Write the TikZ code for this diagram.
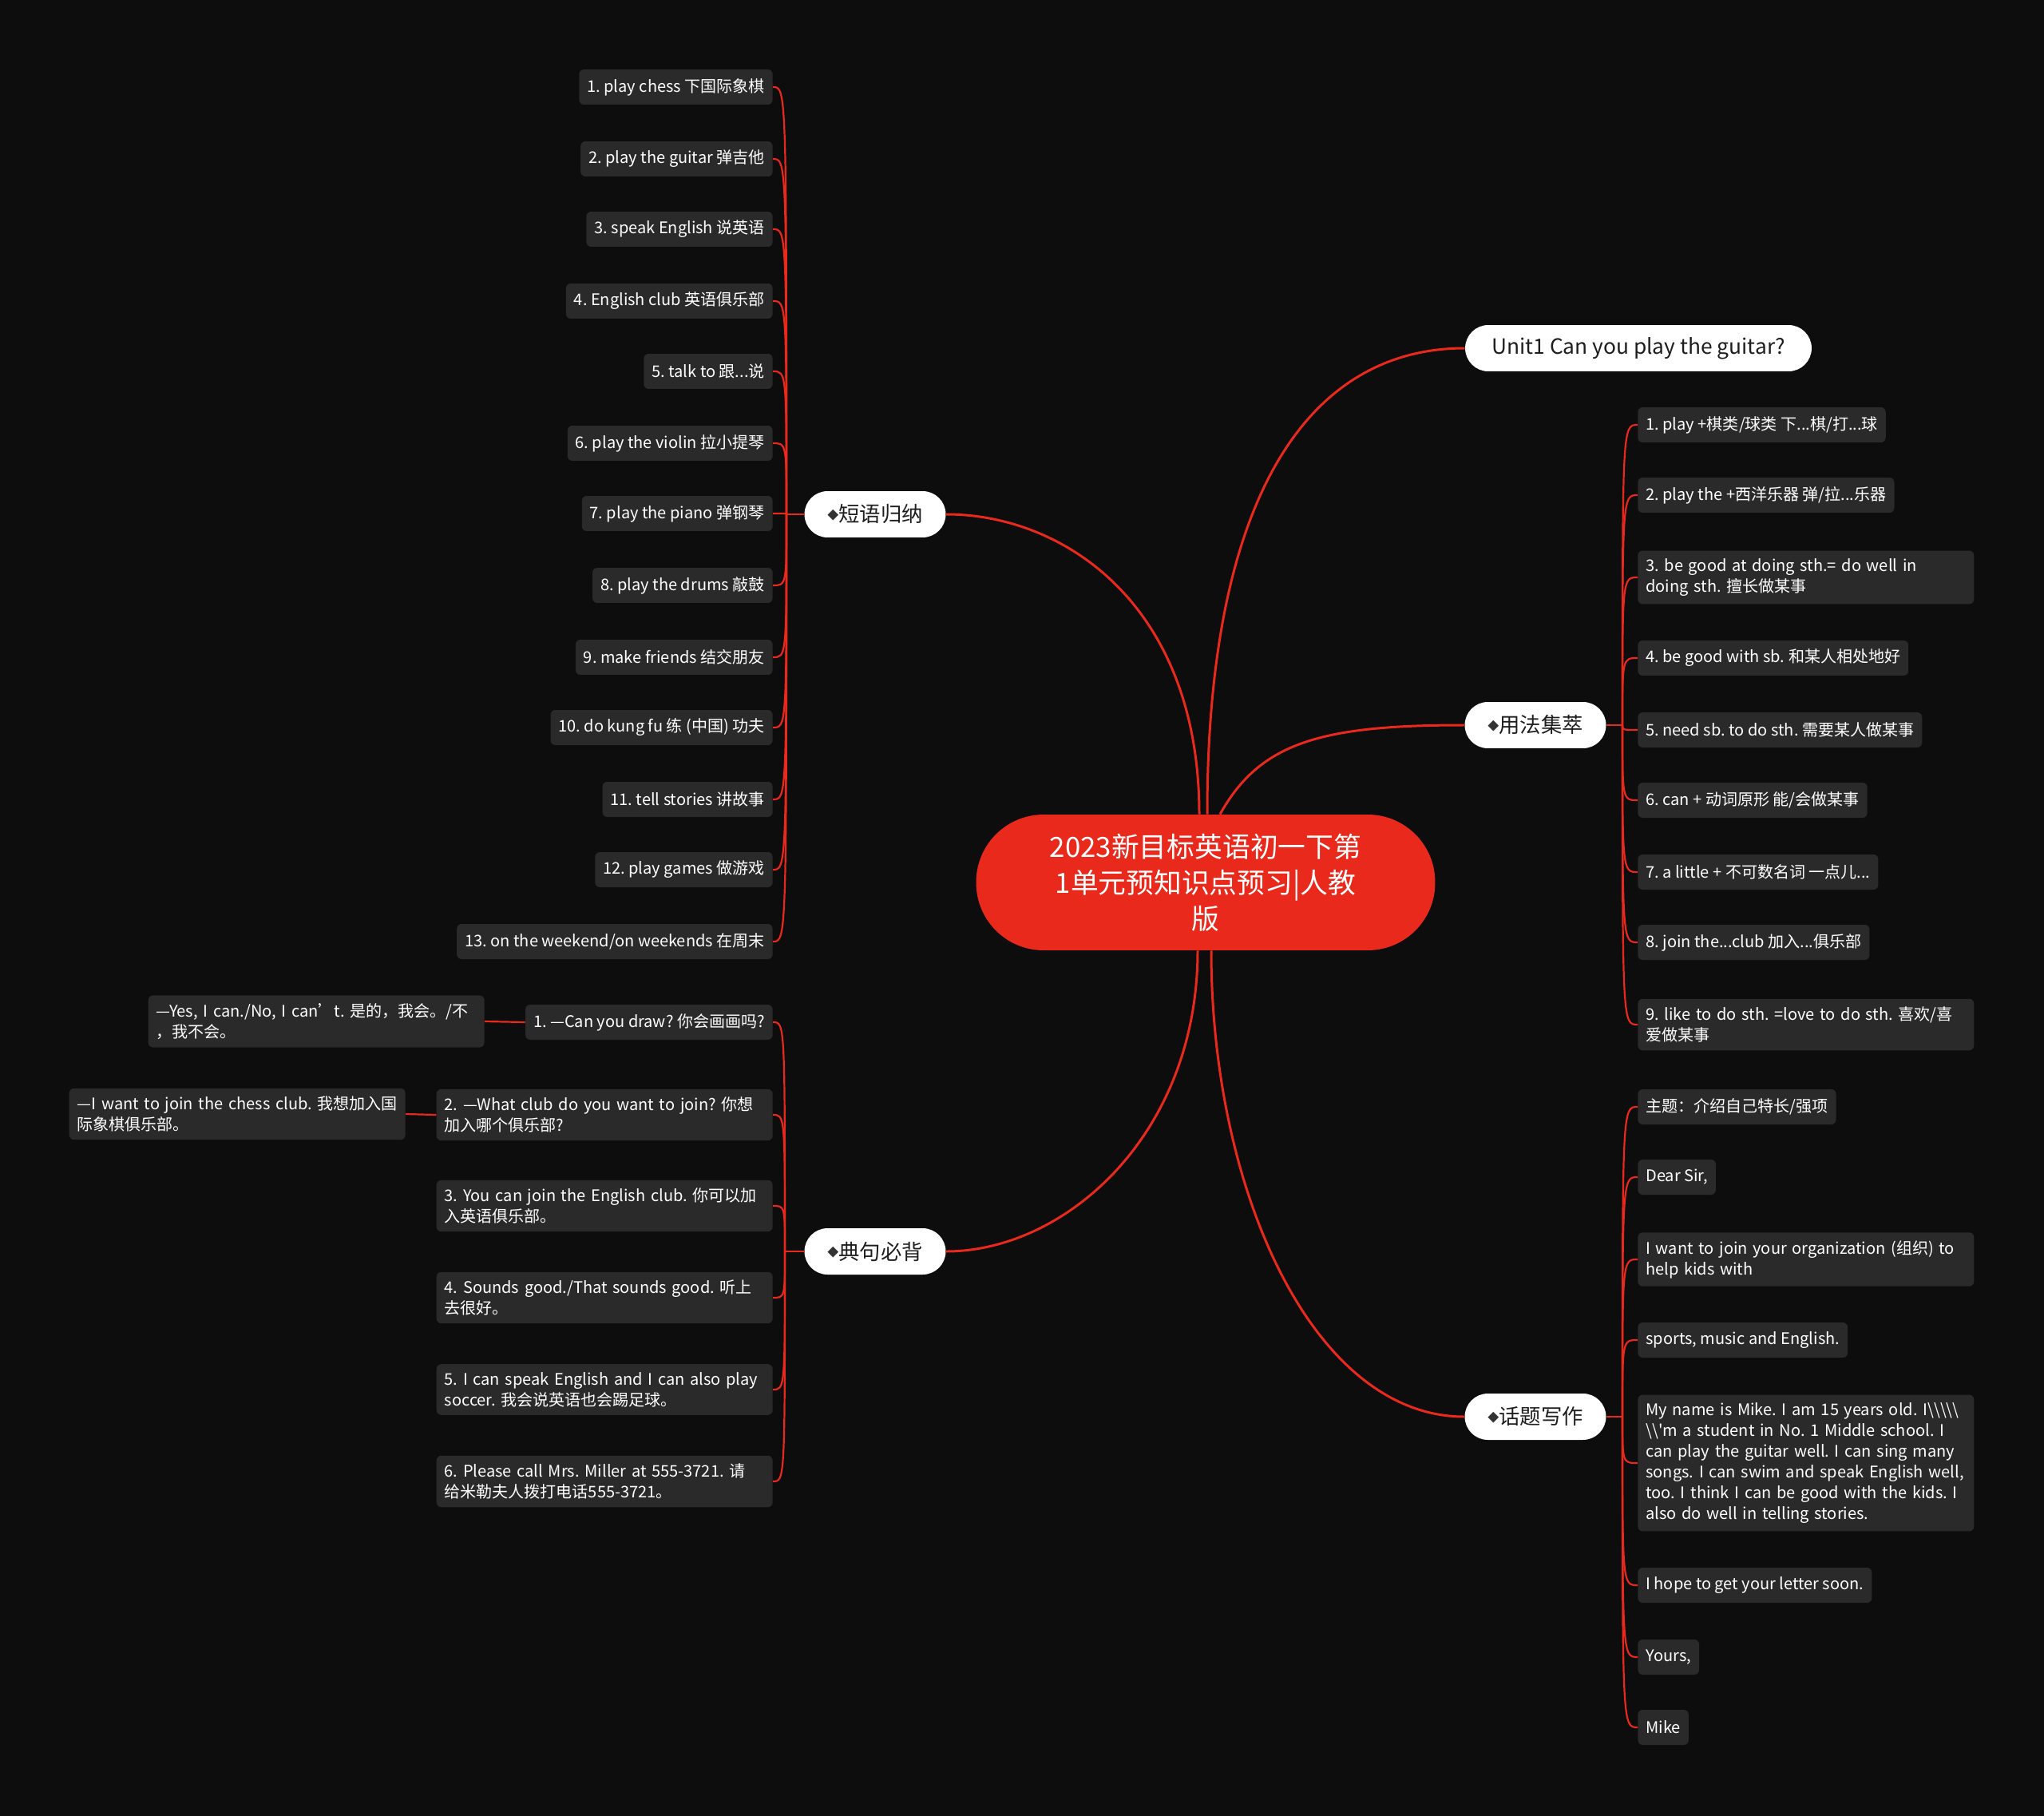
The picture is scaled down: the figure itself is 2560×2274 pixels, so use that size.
\documentclass[tikz,border=0pt]{standalone}
\usepackage{fontspec}
\setmainfont{Noto Sans CJK SC}
\usepackage{xcolor}
\usepackage{tikz}
\frenchspacing
\definecolor{MapBg}{HTML}{0D0D0D}
\definecolor{MapRed}{HTML}{E8291C}
\definecolor{MapLeaf}{HTML}{2A2A2A}
\definecolor{MapInk}{HTML}{1E1E1E}
\definecolor{MapDia}{HTML}{333333}
\newcommand\leaffont{\fontsize{11.4pt}{14.8pt}\selectfont}
\newcommand\dmd{\raisebox{0.12em}{\color{MapDia}\fontsize{8pt}{8pt}\selectfont ◆}}
\tikzset{
  rootbox/.style={fill=MapRed,text=white,rounded corners=1.69cm,minimum width=11.5cm,minimum height=3.4cm,align=center,inner sep=0pt,font=\fontsize{19.8pt}{25.6pt}\selectfont},
  limbbox/.style={fill=white,text=MapInk,rounded corners=0.58cm,minimum width=3.54cm,minimum height=1.16cm,inner sep=0pt,font=\fontsize{15pt}{18pt}\selectfont},
  leaf/.style={fill=MapLeaf,text=white,rounded corners=0.12cm,inner xsep=0.2cm,inner ysep=0.2cm,minimum height=0.88cm,font=\leaffont},
  wide/.style={text width=8.02cm,align=left},
  limb/.style={draw=MapRed,line width=1.7pt},
  twig/.style={draw=MapRed,line width=1.25pt}
}
\begin{document}
\begin{tikzpicture}[x=0.02cm,y=-0.02cm]
\fill[MapBg] (0,0) rectangle (2560,2274);
\useasboundingbox (0,0) rectangle (2560,2274);

\node[rootbox] (root) at (1510,1105) {2023新目标英语初一下第\\1单元预知识点预习|人教\\版};

\node[limbbox] (phr) at (1096,644) {\dmd{}短语归纳};
\node[limbbox] (sen) at (1096,1567) {\dmd{}典句必背};
\node[limbbox,minimum width=8.68cm] (unit) at (2052,436) {Unit1 Can you play the guitar?};
\node[limbbox] (use) at (1923,908) {\dmd{}用法集萃};
\node[limbbox] (wrt) at (1923,1774) {\dmd{}话题写作};

\draw[limb] ([xshift=-0.16cm]root.north) .. controls +(0,-260) and +(150,0) .. (phr.east);
\draw[limb] ([xshift=0.04cm]root.north) .. controls +(0,-400) and +(-195,0) .. (unit.west);
\draw[limb] ([xshift=0.36cm]root.north) .. controls +(50,-90) and +(-180,0) .. (use.west);
\draw[limb] ([xshift=-0.2cm]root.south) .. controls +(0,230) and +(150,0) .. (sen.east);
\draw[limb] ([xshift=0.14cm]root.south) .. controls +(0,300) and +(-190,0) .. (wrt.west);

% 短语归纳
\node[leaf,anchor=east] (phr1) at (968,109) {1. play chess 下国际象棋};
\node[leaf,anchor=east] (phr2) at (968,199) {2. play the guitar 弹吉他};
\node[leaf,anchor=east] (phr3) at (968,287) {3. speak English 说英语};
\node[leaf,anchor=east] (phr4) at (968,377) {4. English club 英语俱乐部};
\node[leaf,anchor=east] (phr5) at (968,465) {5. talk to 跟...说};
\node[leaf,anchor=east] (phr6) at (968,555) {6. play the violin 拉小提琴};
\node[leaf,anchor=east] (phr7) at (968,643) {7. play the piano 弹钢琴};
\node[leaf,anchor=east] (phr8) at (968,733) {8. play the drums 敲鼓};
\node[leaf,anchor=east] (phr9) at (968,823) {9. make friends 结交朋友};
\node[leaf,anchor=east] (phr10) at (968,911) {10. do kung fu 练 (中国) 功夫};
\node[leaf,anchor=east] (phr11) at (968,1001) {11. tell stories 讲故事};
\node[leaf,anchor=east] (phr12) at (968,1089) {12. play games 做游戏};
\node[leaf,anchor=east] (phr13) at (968,1179) {13. on the weekend/on weekends 在周末};
\coordinate (phrS) at (985,644);
\draw[twig] (phr.west) -- (phrS);
\foreach \i in {1,...,13}
  \draw[twig] (phrS) .. controls (phrS |- phr\i.east) .. (phr\i.east);

% 典句必背
\node[leaf,anchor=east] (sen1) at (968,1280) {1. —Can you draw? 你会画画吗?};
\node[leaf,wide,anchor=east] (sen2) at (968,1396) {2. —What club do you want to join? 你想\\加入哪个俱乐部?};
\node[leaf,wide,anchor=east] (sen3) at (968,1510) {3. You can join the English club. 你可以加\\入英语俱乐部。};
\node[leaf,wide,anchor=east] (sen4) at (968,1625) {4. Sounds good./That sounds good. 听上\\去很好。};
\node[leaf,wide,anchor=east] (sen5) at (968,1740) {5. I can speak English and I can also play\\soccer. 我会说英语也会踢足球。};
\node[leaf,wide,anchor=east] (sen6) at (968,1855) {6. Please call Mrs. Miller at 555-3721. 请\\给米勒夫人拨打电话555-3721。};
\coordinate (senS) at (983,1567);
\draw[twig] (sen.west) -- (senS);
\foreach \i in {1,...,6}
  \draw[twig] (senS) .. controls (senS |- sen\i.east) .. (sen\i.east);

\node[leaf,wide,anchor=east] (ans1) at (607,1279) {—Yes, I can./No, I can’t. 是的，我会。/不\\，我不会。};
\node[leaf,wide,anchor=east] (ans2) at (508,1395) {\mbox{—I want to join the chess club. 我想加入国}\\际象棋俱乐部。};
\draw[twig] (sen1.west) -- (ans1.east);
\draw[twig] (sen2.west) -- (ans2.east);

% 用法集萃
\node[leaf,anchor=west] (use1) at (2051,532) {1. play +棋类/球类 下...棋/打...球};
\node[leaf,anchor=west] (use2) at (2051,620) {2. play the +西洋乐器 弹/拉...乐器};
\node[leaf,wide,anchor=west] (use3) at (2051,723) {3. be good at doing sth.= do well in\\doing sth. 擅长做某事};
\node[leaf,anchor=west] (use4) at (2051,824) {4. be good with sb. 和某人相处地好};
\node[leaf,anchor=west] (use5) at (2051,914) {5. need sb. to do sth. 需要某人做某事};
\node[leaf,anchor=west] (use6) at (2051,1002) {6. can + 动词原形 能/会做某事};
\node[leaf,anchor=west] (use7) at (2051,1092) {7. a little + 不可数名词 一点儿...};
\node[leaf,anchor=west] (use8) at (2051,1180) {8. join the...club 加入...俱乐部};
\node[leaf,wide,anchor=west] (use9) at (2051,1283) {9. like to do sth. =love to do sth. 喜欢/喜\\爱做某事};
\coordinate (useS) at (2032,908);
\draw[twig] (use.east) -- (useS);
\foreach \i in {1,...,9}
  \draw[twig] (useS) .. controls (useS |- use\i.west) .. (use\i.west);

% 话题写作
\node[leaf,anchor=west] (wrt1) at (2051,1386) {主题：介绍自己特长/强项};
\node[leaf,anchor=west] (wrt2) at (2051,1474) {Dear Sir,};
\node[leaf,wide,anchor=west] (wrt3) at (2051,1577) {I want to join your organization (组织) to\\help kids with};
\node[leaf,anchor=west] (wrt4) at (2051,1678) {sports, music and English.};
\node[leaf,wide,anchor=west] (wrt5) at (2051,1832) {My name is Mike. I am 15 years old. I\textbackslash\textbackslash\textbackslash\textbackslash\textbackslash\\\textbackslash\textbackslash\textquotesingle m a student in No. 1 Middle school. I\\can play the guitar well. I can sing many\\songs. I can swim and speak English well,\\too. I think I can be good with the kids. I\\also do well in telling stories.};
\node[leaf,anchor=west] (wrt6) at (2051,1985) {I hope to get your letter soon.};
\node[leaf,anchor=west] (wrt7) at (2051,2075) {Yours,};
\node[leaf,anchor=west] (wrt8) at (2051,2163) {Mike};
\coordinate (wrtS) at (2032,1774);
\draw[twig] (wrt.east) -- (wrtS);
\foreach \i in {1,...,8}
  \draw[twig] (wrtS) .. controls (wrtS |- wrt\i.west) .. (wrt\i.west);
\end{tikzpicture}
\end{document}
